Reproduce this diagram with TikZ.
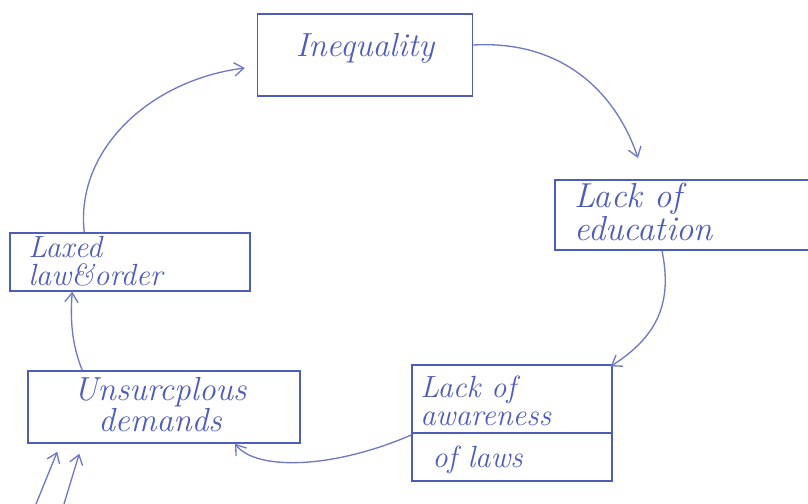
\documentclass[tikz,border=0pt]{standalone}
\usetikzlibrary{arrows.meta,calc}
\definecolor{ink}{RGB}{78,92,188}
\definecolor{inklight}{RGB}{110,122,200}
\begin{document}
\begin{tikzpicture}[x=0.75pt,y=-0.75pt,
  box/.style={draw=ink,line width=1.1pt,rectangle,inner sep=0pt},
  lbl/.style={text=ink,font=\fontsize{23}{21}\selectfont\itshape,align=center,inner sep=0pt},
  lbll/.style={lbl,align=left,anchor=west},
  arr/.style={draw=inklight,line width=1pt,-{Straight Barb[length=7pt,width=10pt]}}]
\useasboundingbox (0,0) rectangle (808,504);
% boxes
\node[box,minimum width=215*0.75pt,minimum height=82*0.75pt] (ineq) at (365,55) {};
\node[lbl,font=\fontsize{25}{22}\selectfont\itshape] (ineqt) at (365,48) {Inequality};
\node[box,minimum width=262*0.75pt,minimum height=70*0.75pt] (edu) at (686,215) {};
\node[lbll,font=\fontsize{26}{22}\selectfont\itshape] (edut) at (574,212) {Lack of\\education};
\node[box,minimum width=240*0.75pt,minimum height=58*0.75pt] (laxed) at (130,262) {};
\node[lbll] (laxedt) at (28,261) {Laxed\\law\&order};
\node[box,minimum width=272*0.75pt,minimum height=72*0.75pt] (dem) at (164,407) {};
\node[lbl,font=\fontsize{25}{22}\selectfont\itshape] (demt) at (160,405) {Unsurcplous\\demands};
\node[box,minimum width=200*0.75pt,minimum height=116*0.75pt] (aware) at (512,423) {};
\node[lbll] (awaret1) at (420,401) {Lack of\\awareness};
\node[lbll] (awaret2) at (432,460) {of laws};
\draw[ink,line width=1.1pt] ($(aware.west)+(0,10)$) -- ($(aware.east)+(0,10)$);
% free ends
\coordinate (e1) at (638,158);
\coordinate (e2a) at (36,504);
\coordinate (e2b) at (64,504);
% connectors
\draw[arr] ($(ineq.east)+(0,-10)$) .. controls (560,40) and (615,90) .. (e1);
\draw[arr] ($(edu.south)+(-24,0)$) .. controls (672,300) and (660,335) .. ($(aware.north east)+(-2,2)$);
\draw[arr] ($(aware.west)+(0,12)$) .. controls (330,470) and (255,470) .. ($(dem.south)+(71,0)$);
\draw[arr] ($(dem.north west)+(55,0)$) .. controls (72,345) and (70,320) .. ($(laxed.south west)+(63,0)$);
\draw[arr] ($(laxed.north west)+(75,0)$) .. controls (75,150) and (150,80) .. ($(ineq.west)+(-12,13)$);
\draw[arr] (e2a) -- ($(dem.south west)+(30,8)$);
\draw[arr] (e2b) -- ($(dem.south west)+(52,10)$);
\end{tikzpicture}
\end{document}
